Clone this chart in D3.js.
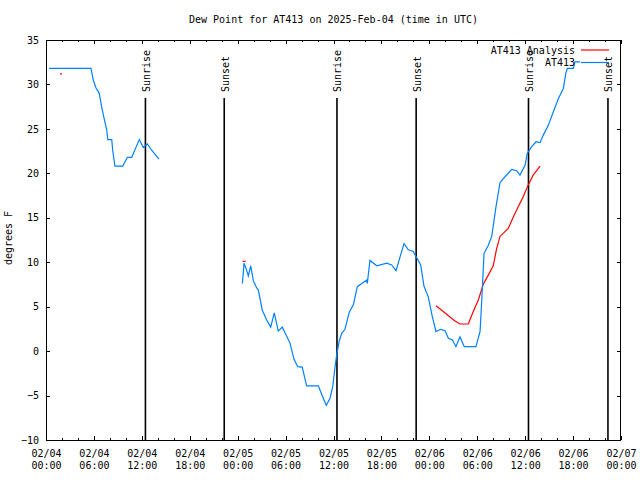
<!DOCTYPE html>
<html><head><meta charset="utf-8">
<script src="https://cdn.jsdelivr.net/npm/d3@7"></script>
<style>
body{margin:0;background:#fff}
text{font-family:"DejaVu Sans Mono","Liberation Mono",monospace;font-size:10px;fill:#000}
</style>
</head><body>
<svg id="c" width="640" height="480"></svg>
<script>
const titleText = "Dew Point for AT413 on 2025-Feb-04 (time in UTC)";
const yLabelText = "degrees F";
const yTicks = [-10,-5,0,5,10,15,20,25,30,35];
const xDomain = ["2025-02-04 00:00","2025-02-07 00:00"];
const legendNames = ["AT413 Analysis","AT413"];
const sunriseTimes = ["2025-02-04 12:27","2025-02-05 12:26","2025-02-06 12:25"];
const sunsetTimes = ["2025-02-04 22:19","2025-02-05 22:21","2025-02-06 22:22"];

// observed dew point (null = gap)
const obsTimes = [
"2025-02-04 00:23","2025-02-04 05:38","2025-02-04 05:55","2025-02-04 06:16","2025-02-04 06:40","2025-02-04 06:58","2025-02-04 07:16","2025-02-04 07:36","2025-02-04 07:44","2025-02-04 08:14","2025-02-04 08:21","2025-02-04 08:38","2025-02-04 09:36","2025-02-04 10:11","2025-02-04 10:44","2025-02-04 11:41","2025-02-04 12:11","2025-02-04 12:41","2025-02-04 13:14","2025-02-04 14:09",
"2025-02-04 18:00",
"2025-02-05 00:35","2025-02-05 00:42","2025-02-05 00:48","2025-02-05 01:03","2025-02-05 01:20","2025-02-05 01:38","2025-02-05 01:58","2025-02-05 02:23","2025-02-05 02:35","2025-02-05 03:05","2025-02-05 03:38","2025-02-05 04:08","2025-02-05 04:35","2025-02-05 05:05","2025-02-05 05:35","2025-02-05 06:08","2025-02-05 06:33","2025-02-05 07:03","2025-02-05 07:31","2025-02-05 08:05","2025-02-05 08:38","2025-02-05 10:06","2025-02-05 10:43","2025-02-05 11:06","2025-02-05 11:34","2025-02-05 11:54","2025-02-05 12:09","2025-02-05 12:24","2025-02-05 12:44","2025-02-05 13:02","2025-02-05 13:26","2025-02-05 13:59","2025-02-05 14:29","2025-02-05 14:59","2025-02-05 15:32","2025-02-05 16:10","2025-02-05 16:14","2025-02-05 16:34","2025-02-05 17:25","2025-02-05 18:40","2025-02-05 19:17","2025-02-05 19:50","2025-02-05 20:20","2025-02-05 20:50","2025-02-05 21:22","2025-02-05 21:59","2025-02-05 22:29","2025-02-05 22:55","2025-02-05 23:20","2025-02-05 23:52",
"2025-02-06 00:22","2025-02-06 00:50","2025-02-06 01:25","2025-02-06 01:58","2025-02-06 02:23","2025-02-06 02:53","2025-02-06 03:20","2025-02-06 03:50","2025-02-06 04:23","2025-02-06 05:50","2025-02-06 06:21","2025-02-06 06:34","2025-02-06 06:51","2025-02-06 07:23","2025-02-06 07:49","2025-02-06 08:21","2025-02-06 08:51","2025-02-06 09:16","2025-02-06 10:19","2025-02-06 10:56","2025-02-06 11:21","2025-02-06 11:59","2025-02-06 12:16","2025-02-06 12:49","2025-02-06 13:22","2025-02-06 13:52","2025-02-06 14:16","2025-02-06 14:54","2025-02-06 15:31","2025-02-06 16:09","2025-02-06 16:47","2025-02-06 17:05","2025-02-06 17:17","2025-02-06 18:02","2025-02-06 18:14","2025-02-06 18:52"
];
const obsValues = [
31.8,31.8,30.5,29.6,29.0,27.5,26.2,24.9,23.8,23.8,22.6,20.8,20.8,21.8,21.8,23.8,22.9,23.3,22.6,21.6,
null,
7.6,8.75,9.9,9.3,8.45,9.6,7.9,7.1,6.9,4.6,3.5,2.7,4.3,2.25,2.7,1.7,0.9,-0.9,-1.75,-1.8,-3.9,-3.9,-5.3,-6.1,-5.3,-4.0,-2.1,-0.4,1.2,2.0,2.45,4.4,5.2,7.25,7.6,8.0,7.6,10.2,9.6,9.9,9.7,9.05,10.6,12.1,11.4,11.2,10.4,9.7,7.3,6.1,
3.9,2.2,2.45,2.3,1.45,1.25,0.5,1.6,0.5,0.5,2.2,5.75,11.0,11.9,12.9,16.25,18.95,19.4,20.45,20.3,19.8,20.9,22.25,23.0,23.55,23.45,24.3,25.4,26.9,28.4,29.55,31.25,31.8,31.8,32.55,32.55
];

// analysis dew point (null = gap)
const anaTimes = [
"2025-02-04 01:45","2025-02-04 02:00","2025-02-04 12:00",
"2025-02-05 00:38","2025-02-05 01:00","2025-02-05 12:00",
"2025-02-06 00:50","2025-02-06 01:33","2025-02-06 02:23","2025-02-06 03:13","2025-02-06 03:50","2025-02-06 04:53","2025-02-06 05:30","2025-02-06 06:08","2025-02-06 06:46","2025-02-06 07:23","2025-02-06 08:00","2025-02-06 08:26","2025-02-06 08:51","2025-02-06 09:53","2025-02-06 10:31","2025-02-06 11:08","2025-02-06 11:46","2025-02-06 12:23","2025-02-06 13:00","2025-02-06 13:52"
];
const anaValues = [
31.2,31.2,null,
10.1,10.1,null,
5.1,4.6,3.98,3.4,3.05,3.05,4.45,5.75,7.55,8.55,9.6,11.55,12.9,13.8,15.1,16.25,17.4,18.7,19.8,20.8
];

const parse = d3.utcParse("%Y-%m-%d %H:%M");
const L = 46, R = 621, T = 40, B = 440;
const svg = d3.select("#c");
svg.append("rect").attr("width",640).attr("height",480).attr("fill","#fff");

const x = d3.scaleUtc().domain(xDomain.map(parse)).range([L, R]);
const y = d3.scaleLinear().domain([-10, 35]).range([B, T]);

// title
svg.append("text").attr("x", (L+R)/2).attr("y", 23).attr("text-anchor","middle").text(titleText);
// y label
svg.append("text").attr("transform","translate(12,238) rotate(-90)").attr("text-anchor","middle").text(yLabelText);

const crisp = g => g.attr("shape-rendering","crispEdges");

// x major ticks bottom
const majorTicks = d3.utcHour.every(6).range(x.domain()[0], d3.utcHour.offset(x.domain()[1],1));
const minorTicks = d3.utcHour.every(2).range(x.domain()[0], d3.utcHour.offset(x.domain()[1],1));
const fD = d3.utcFormat("%m/%d"), fT = d3.utcFormat("%H:%M");

const gxMinor = svg.append("g").attr("transform",`translate(0,${B})`).call(crisp)
  .call(d3.axisBottom(x).tickValues(minorTicks).tickSize(-2).tickFormat(""));
const gxMinorTop = svg.append("g").attr("transform",`translate(0,${T})`).call(crisp)
  .call(d3.axisTop(x).tickValues(minorTicks).tickSize(-2).tickFormat(""));
const gx = svg.append("g").attr("transform",`translate(0,${B})`).call(crisp)
  .call(d3.axisBottom(x).tickValues(majorTicks).tickSize(-4).tickFormat(""));
const gxTop = svg.append("g").attr("transform",`translate(0,${T})`).call(crisp)
  .call(d3.axisTop(x).tickValues(majorTicks).tickSize(-4).tickFormat(""));
gx.selectAll(".tick text").each(function(d){
  const t = d3.select(this).attr("dy", null).attr("y", null);
  t.append("tspan").attr("x",0).attr("y",17).text(fD(d));
  t.append("tspan").attr("x",0).attr("y",29).text(fT(d));
});

const gy = svg.append("g").attr("transform",`translate(${L},0)`).call(crisp)
  .call(d3.axisLeft(y).tickValues(yTicks).tickSize(-4).tickPadding(7).tickFormat(d3.format("d")));
const gyR = svg.append("g").attr("transform",`translate(${R},0)`).call(crisp)
  .call(d3.axisRight(y).tickValues(yTicks).tickSize(-4).tickFormat(""));
[gxMinor,gxMinorTop,gx,gxTop,gy,gyR].forEach(g=>{
  g.select(".domain").remove();
  g.selectAll(".tick line").attr("stroke","#000");
  g.selectAll(".tick text").attr("font-family",null).attr("font-size",null).attr("fill","#000");
});

// frame
svg.append("rect").attr("x",L+0.5).attr("y",T+0.5).attr("width",R-L-1).attr("height",B-T)
  .attr("fill","none").attr("stroke","#000").attr("stroke-width",1).call(crisp);

// sunrise / sunset lines
const sunEvents = sunriseTimes.map(t=>({t:parse(t),label:"Sunrise"}))
  .concat(sunsetTimes.map(t=>({t:parse(t),label:"Sunset"})));
const sg = svg.append("g");
sg.selectAll("line").data(sunEvents).join("line")
  .attr("x1",d=>x(d.t)).attr("x2",d=>x(d.t)).attr("y1",98).attr("y2",B)
  .attr("stroke","#000").attr("stroke-width",1.6);
sg.selectAll("text").data(sunEvents).join("text")
  .attr("transform",d=>`translate(${x(d.t)+1},92) rotate(-90)`)
  .attr("dominant-baseline","central").attr("text-anchor","start").text(d=>d.label);

// data lines
const obs = obsTimes.map((t,i)=>({t:parse(t), v:obsValues[i]}));
const ana = anaTimes.map((t,i)=>({t:parse(t), v:anaValues[i]}));
const line = d3.line().defined(d=>d.v!==null).x(d=>x(d.t)).y(d=>y(d.v));
svg.append("path").datum(ana).attr("d",line).attr("fill","none").attr("stroke","#ff0000").attr("stroke-width",1.2);
svg.append("path").datum(obs).attr("d",line).attr("fill","none").attr("stroke","#0080ff").attr("stroke-width",1.2);

// legend
const legColors = ["#ff0000","#0080ff"];
const lg = svg.append("g");
legendNames.forEach((n,i)=>{
  const yy = 50 + i*12.5;
  lg.append("text").attr("x",575).attr("y",yy).attr("text-anchor","end").attr("dominant-baseline","central").text(n);
  lg.append("line").attr("x1",581).attr("x2",609).attr("y1",yy).attr("y2",yy)
    .attr("stroke",legColors[i]).attr("stroke-width",1.2);
});
</script>
</body></html>
